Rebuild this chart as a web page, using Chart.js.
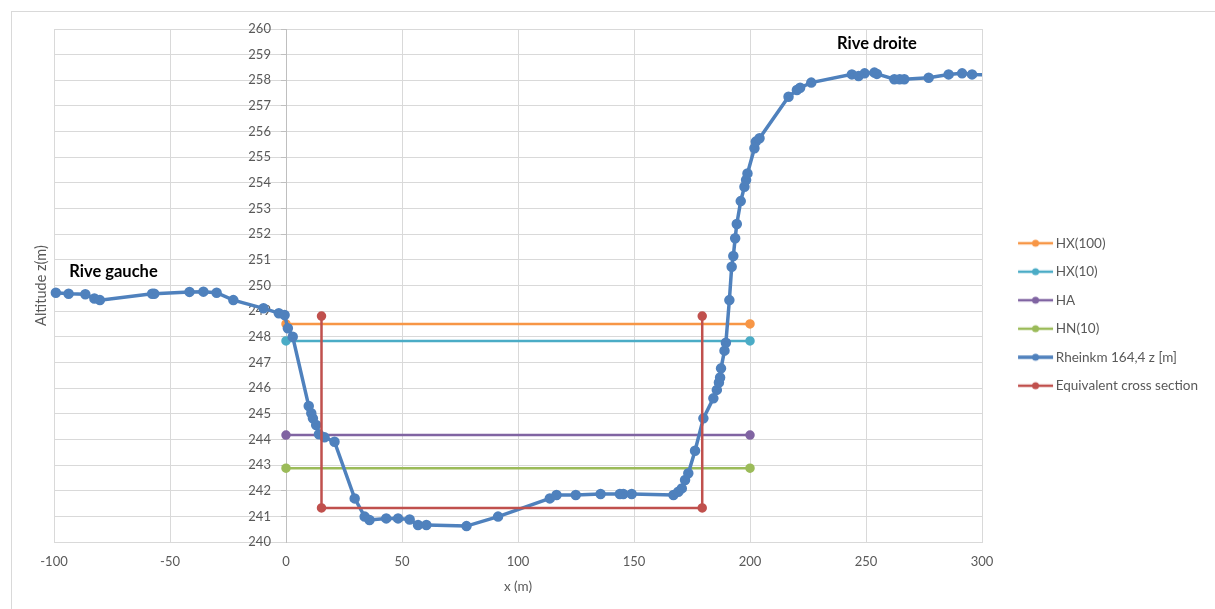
<!DOCTYPE html>
<html>
<head>
<meta charset="utf-8">
<script src="https://cdn.jsdelivr.net/npm/chart.js@4.4.1/dist/chart.umd.min.js"></script>
<style>
  html, body { margin: 0; padding: 0; background: #fff; }
  #wrap { width: 1215px; height: 609px; position: relative; }
</style>
</head>
<body>
<div id="wrap"><canvas id="chart"></canvas></div>
<script>
/* Profil en travers Rheinkm 164,4 */
const profileX = [-99.2, -93.7, -86.5, -82.6, -80.2, -57.7, -56.8, -41.6, -35.6, -29.9,
  -22.7, -9.7, -3.1, -0.6, 0.8, 2.9, 9.8, 10.9, 11.6, 13.0,
  14.2, 16.6, 20.9, 29.6, 33.9, 36.0, 43.2, 48.3, 53.3, 56.9,
  60.5, 77.8, 91.4, 113.7, 116.6, 124.9, 135.6, 143.9, 145.4, 149.0,
  167.0, 169.1, 170.6, 172.0, 173.4, 176.3, 179.9, 184.2, 185.7, 186.6,
  187.1, 187.5, 189.0, 189.6, 191.1, 192.1, 192.8, 193.6, 194.3, 196.0,
  197.6, 198.3, 198.9, 201.9, 202.5, 204.1, 216.6, 220.2, 221.6, 226.4,
  243.9, 246.8, 249.4, 253.6, 254.7, 262.2, 264.5, 266.5, 277.0, 285.6,
  291.4, 295.7, 305.0];
const profileZ = [249.72, 249.68, 249.66, 249.49, 249.43, 249.68, 249.68, 249.75, 249.76, 249.72,
  249.43, 249.11, 248.92, 248.85, 248.33, 248.00, 245.30, 245.02, 244.82, 244.56,
  244.20, 244.08, 243.91, 241.70, 240.99, 240.86, 240.92, 240.92, 240.88, 240.66,
  240.66, 240.62, 240.99, 241.70, 241.83, 241.83, 241.87, 241.87, 241.87, 241.87,
  241.83, 241.96, 242.09, 242.42, 242.68, 243.56, 244.82, 245.60, 245.93, 246.22,
  246.41, 246.77, 247.46, 247.77, 249.43, 250.73, 251.15, 251.84, 252.40, 253.29,
  253.85, 254.11, 254.37, 255.35, 255.61, 255.74, 257.36, 257.62, 257.71, 257.91,
  258.23, 258.17, 258.27, 258.30, 258.25, 258.04, 258.04, 258.04, 258.10, 258.23,
  258.27, 258.23, 258.20];

// niveaux d'eau (de x=0 à x=200)
const levelNames = ['HX(100)', 'HX(10)', 'HA', 'HN(10)'];
const levelZ = [248.50, 247.84, 244.17, 242.88];
const levelX = [0, 200];

// section équivalente
const eqX = [15.3, 15.3, 179.4, 179.4];
const eqZ = [248.81, 241.33, 241.33, 248.81];

const xTicks = [-100, -50, 0, 50, 100, 150, 200, 250, 300];
const yTicks = [240, 241, 242, 243, 244, 245, 246, 247, 248, 249, 250, 251, 252, 253, 254, 255, 256, 257, 258, 259, 260];

const levelColors = ['#F79646', '#4BACC6', '#8064A2', '#9BBB59'];
const profileColor = '#4F81BD';
const eqColor = '#C0504D';
const FONT = 'Lato, "Open Sans", sans-serif';
const GRID = '#d9d9d9';
const TEXT = '#595959';

function pts(xs, ys) {
  return xs.map((x, i) => ({ x: x, y: ys[i] }));
}

// symbole de légende : trait + point
function legendIcon(color, width) {
  const c = document.createElement('canvas');
  c.width = 70; c.height = 10;
  const g = c.getContext('2d');
  g.strokeStyle = color;
  g.lineWidth = width;
  g.beginPath(); g.moveTo(30, 5); g.lineTo(65, 5); g.stroke();
  g.fillStyle = color;
  g.beginPath(); g.arc(47.5, 5, 3.5, 0, Math.PI * 2); g.fill();
  return c;
}

// ordre inverse : le premier jeu est dessiné au-dessus
const datasets = [];
datasets.push({
  label: 'Equivalent cross section',
  data: pts(eqX, eqZ),
  borderColor: eqColor, backgroundColor: eqColor,
  borderWidth: 2.5, pointRadius: 3.5, pointHoverRadius: 3.5,
  icon: legendIcon(eqColor, 2.5)
});
datasets.push({
  label: 'Rheinkm 164,4 z [m]',
  data: pts(profileX, profileZ),
  borderColor: profileColor, backgroundColor: profileColor,
  borderWidth: 3.5, pointRadius: 3.5, pointHoverRadius: 3.5,
  clip: { left: 6, top: 6, right: 0, bottom: 6 },
  icon: legendIcon(profileColor, 3.5)
});
for (let i = levelNames.length - 1; i >= 0; i--) {
  datasets.push({
    label: levelNames[i],
    data: pts(levelX, [levelZ[i], levelZ[i]]),
    borderColor: levelColors[i], backgroundColor: levelColors[i],
    borderWidth: 2.5, pointRadius: 3.5, pointHoverRadius: 3.5,
    icon: legendIcon(levelColors[i], 2.5)
  });
}

const notes = [
  { text: 'Rive gauche', x: -93.4, y: 250.54 },
  { text: 'Rive droite', x: 237.5, y: 259.42 }
];

const extras = {
  id: 'extras',
  beforeDraw(chart) {
    const ctx = chart.ctx;
    ctx.save();
    ctx.strokeStyle = GRID;
    ctx.lineWidth = 1;
    ctx.strokeRect(11.5, 11.5, 1215, 609);
    ctx.restore();
  },
  afterDatasetsDraw(chart) {
    const ctx = chart.ctx;
    const sx = chart.scales.x, sy = chart.scales.y;
    ctx.save();
    ctx.font = 'bold 16.5px ' + FONT;
    ctx.fillStyle = '#000';
    ctx.textAlign = 'left';
    ctx.textBaseline = 'middle';
    notes.forEach(n => ctx.fillText(n.text, sx.getPixelForValue(n.x), sy.getPixelForValue(n.y)));
    ctx.restore();
  }
};

new Chart(document.getElementById('chart'), {
  type: 'line',
  data: { datasets: datasets },
  plugins: [extras],
  options: {
    responsive: true,
    maintainAspectRatio: false,
    animation: false,
    layout: { padding: { left: 28.6, right: 7, top: 29, bottom: 9 } },
    plugins: {
      tooltip: { enabled: false },
      legend: {
        position: 'right',
        reverse: true,
        maxWidth: 320,
        labels: {
          usePointStyle: true,
          pointStyleWidth: 52,
          boxHeight: 10,
          padding: 15,
          color: TEXT,
          font: { family: FONT, size: 13.5 },
          generateLabels(chart) {
            const items = Chart.defaults.plugins.legend.labels.generateLabels(chart);
            items.forEach(it => { it.pointStyle = chart.data.datasets[it.datasetIndex].icon; });
            return items;
          }
        }
      }
    },
    scales: {
      x: {
        type: 'linear',
        min: -100, max: 300,
        afterBuildTicks(s) { s.ticks = xTicks.map(v => ({ value: v })); },
        ticks: { color: TEXT, font: { family: FONT, size: 13 }, padding: 12 },
        grid: { color: GRID, drawTicks: false },
        border: { color: GRID },
        title: { display: true, text: 'x (m)', color: TEXT, font: { family: FONT, size: 13.5 }, padding: { top: -2.8, bottom: 5 } }
      },
      // étiquettes de l'axe vertical, un peu à gauche de x = 0
      y: {
        type: 'linear',
        position: { x: -6.5 },
        min: 240, max: 260,
        afterBuildTicks(s) { s.ticks = yTicks.map(v => ({ value: v })); },
        ticks: { color: TEXT, font: { family: FONT, size: 13 } },
        grid: { color: GRID, drawTicks: false },
        border: { display: false }
      },
      // trait de l'axe vertical à x = 0
      y2: {
        type: 'linear',
        position: { x: 0 },
        min: 240, max: 260,
        afterBuildTicks(s) { s.ticks = yTicks.map(v => ({ value: v })); },
        ticks: { display: false },
        grid: { drawOnChartArea: false, drawTicks: true, tickLength: 5, color: '#bfbfbf' },
        border: { color: '#bfbfbf' }
      },
      yt: {
        type: 'linear',
        position: 'left',
        min: 0, max: 1,
        ticks: { display: false },
        grid: { display: false, drawTicks: false },
        border: { display: false },
        title: { display: true, text: 'Altitude z(m)', color: TEXT, font: { family: FONT, size: 14.5 }, padding: 4 }
      }
    }
  }
});
</script>
</body>
</html>
